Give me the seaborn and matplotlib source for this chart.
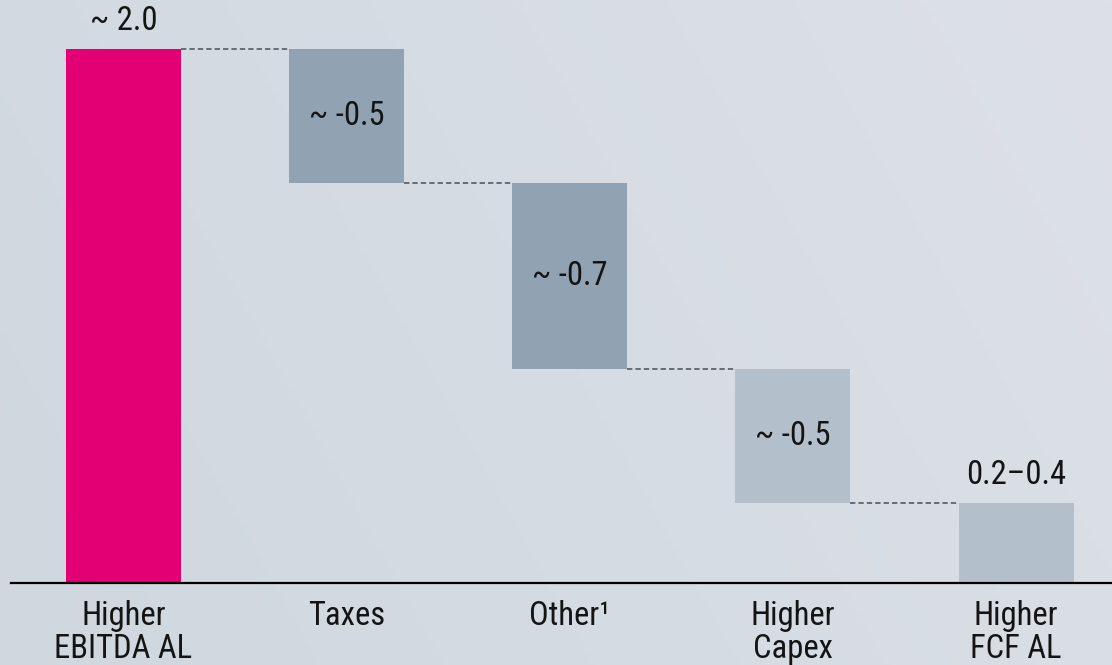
import numpy as np
import pandas as pd
import matplotlib
matplotlib.use("Agg")
import matplotlib.pyplot as plt
from matplotlib import font_manager
import seaborn as sns

# Free cash flow bridge (EUR bn)
categories = ["Higher\nEBITDA AL", "Taxes", "Other¹", "Higher\nCapex", "Higher\nFCF AL"]
changes = [2.0, -0.5, -0.7, -0.5, 0.3]
value_labels = ["~ 2.0", "~ -0.5", "~ -0.7", "~ -0.5", "0.2–0.4"]
bar_colors = ["#E20074", "#91A3B3", "#91A3B3", "#B3BFCB", "#B3BFCB"]

sns.set_theme(style="white")
names = {f.name for f in font_manager.fontManager.ttflist}
family = [f for f in ["Roboto Condensed", "Liberation Sans Narrow", "Roboto", "DejaVu Sans"]
          if f in names]
plt.rcParams["font.family"] = family

# floating segments: totals start at zero, deltas hang from the running level
bottoms, heights, levels = [], [], []
level = 0.0
last = len(changes) - 1
for i, c in enumerate(changes):
    if i == 0:
        bottoms.append(0.0)
        heights.append(c)
        level = c
    elif i == last:
        bottoms.append(0.0)
        heights.append(c)
    else:
        bottoms.append(level + c)
        heights.append(-c)
        level = level + c
    levels.append(level)

df = pd.DataFrame({"cat": categories, "height": heights, "bottom": bottoms})

fig = plt.figure(figsize=(11.12, 6.65), dpi=100)

# soft diagonal background gradient
bg = fig.add_axes([0, 0, 1, 1], zorder=-10)
gx, gy = np.meshgrid(np.linspace(0, 1, 200), np.linspace(0, 1, 200))
t = 0.75 * gx + 0.25 * (1 - gy)
c0 = np.array([0xCF, 0xD7, 0xDF]) / 255
c1 = np.array([0xDD, 0xE1, 0xE7]) / 255
img = c0[None, None, :] * (1 - t[..., None]) + c1[None, None, :] * t[..., None]
bg.imshow(img, aspect="auto", extent=[0, 1, 0, 1], origin="upper")
bg.axis("off")

ax = fig.add_axes([11 / 1112, (665 - 583) / 665, 1 - 11 / 1112, 583 / 665])
ax.patch.set_alpha(0)

bar_w = 0.515
sns.barplot(data=df, x="cat", y="height", bottom=df["bottom"].values,
            width=bar_w, color=bar_colors[0], saturation=1, ax=ax, linewidth=0)
for patch, col in zip(ax.patches, bar_colors):
    patch.set_facecolor(col)

ax.set_xlim(-0.504, 4.43)
ax.set_ylim(0, 583 / 267)

# dashed connectors between consecutive bars
hw = bar_w / 2
for i in range(last):
    y = levels[i]
    ax.plot([i + hw, i + 1 - hw], [y, y], ls=(0, (3.5, 2)), lw=1.1, color="#4a5057",
            zorder=1)

txt_color = "#141414"
fs = 23.5
for i, lab in enumerate(value_labels):
    if i == 0 or i == last:
        ax.text(i, bottoms[i] + heights[i] + 0.045, lab, ha="center", va="bottom",
                fontsize=fs, color=txt_color)
    else:
        ax.text(i, bottoms[i] + heights[i] / 2, lab, ha="center", va="center",
                fontsize=fs, color=txt_color)

for s in ["top", "left", "right"]:
    ax.spines[s].set_visible(False)
ax.spines["bottom"].set_color("black")
ax.spines["bottom"].set_linewidth(1.6)
ax.set_yticks([])
ax.set_xlabel("")
ax.set_ylabel("")
ax.tick_params(axis="x", length=0, pad=12, labelsize=fs, labelcolor=txt_color)
for lbl in ax.get_xticklabels():
    lbl.set_linespacing(1.05)
    lbl.set_verticalalignment("top")

fig.savefig("out.png", dpi=100)
